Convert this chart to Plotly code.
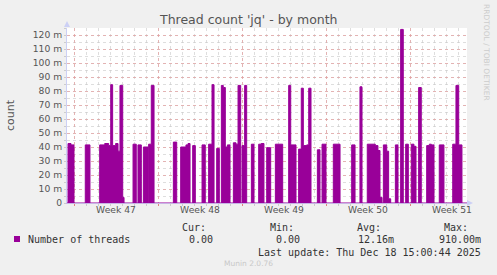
import plotly.graph_objects as go

# time axis: days since Monday 17 Nov 2025 00:00 (start of Week 47)
seg_start = [-0.50, -0.25, 0.94, 2.14, 2.56, 2.89, 3.06, 3.22, 3.47, 3.67, 3.83, 4.06,
             4.92, 5.33, 5.78, 6.22, 6.44, 8.28, 8.89, 9.33, 9.50, 9.89, 10.67, 11.22,
             11.50, 11.89, 12.28, 12.44, 12.61, 12.78, 13.28, 13.50, 13.67, 14.00, 14.22,
             14.78, 15.39, 15.60, 16.06, 16.78, 17.89, 18.06, 18.72, 18.94, 19.11, 19.39,
             19.56, 20.28, 20.67, 21.61, 23.14, 23.83, 24.44, 25.11, 25.33, 25.50, 25.78,
             26.06, 26.22, 26.78, 27.22, 27.64, 28.11, 28.33, 28.72, 29.39, 29.61, 29.78,
             30.44, 31.56, 31.83, 32.06]
seg_end = [-0.25, 0.00, 1.33, 2.56, 2.89, 3.06, 3.22, 3.47, 3.67, 3.83, 4.06, 4.17,
           5.19, 5.61, 6.17, 6.44, 6.67, 8.56, 9.33, 9.50, 9.67, 10.11, 10.94, 11.50,
           11.67, 12.11, 12.44, 12.61, 12.78, 13.00, 13.50, 13.67, 13.89, 14.22, 14.39,
           15.00, 15.60, 15.83, 16.39, 17.39, 18.06, 18.50, 18.94, 19.11, 19.39, 19.56,
           19.75, 20.50, 21.00, 22.17, 23.42, 24.00, 25.11, 25.33, 25.50, 25.67, 26.06,
           26.22, 26.39, 27.00, 27.44, 27.86, 28.33, 28.50, 28.94, 29.61, 29.78, 30.00,
           30.83, 31.83, 32.06, 32.33]
seg_value = [42.5, 41.5, 41.5, 41.5, 42.5, 41, 84.5, 41, 42.5, 37, 84, 4,
             42, 41.5, 40, 42, 84, 43.5, 40, 41.5, 42.5, 41, 41.5, 42,
             84.5, 39, 84, 82.5, 40, 41.5, 43, 42, 84, 41, 84,
             42, 42, 42.5, 39.5, 42, 84, 41.5, 38.5, 82, 41, 41.5,
             82, 38, 42, 42, 41.5, 83, 42, 41, 37.5, 4, 41.5,
             37, 3, 41.5, 124, 42, 42, 40.5, 82.5, 41, 42, 41.5,
             41.5, 42, 84, 41.5]

week_starts = [0, 7, 14, 21, 28]
week_centers = [3.5, 10.5, 17.5, 24.5, 31.5]
week_labels = ["Week 47", "Week 48", "Week 49", "Week 50", "Week 51"]
y_ticks = [0, 10, 20, 30, 40, 50, 60, 70, 80, 90, 100, 110, 120]
y_labels = ["0"] + [f"{v} m" for v in y_ticks[1:]]

X_MIN, X_MAX = -7 / 12, 393 / 12
Y_MAX = 125

# build step series
xs, ys = [X_MIN], [0]
prev_end = None
for s, e, v in zip(seg_start, seg_end, seg_value):
    if prev_end is not None and abs(prev_end - s) > 1e-9:
        xs.append(prev_end); ys.append(0)
    xs.append(s); ys.append(v)
    prev_end = e
xs.append(prev_end); ys.append(0)
xs.append(X_MAX); ys.append(0)

PURPLE = "#990099"
fig = go.Figure()
fig.add_trace(go.Scatter(x=xs, y=ys, mode="lines", line=dict(shape="hv", color=PURPLE, width=1),
                         fill="tozeroy", fillcolor=PURPLE, hoverinfo="skip", showlegend=False))
fig.add_trace(go.Scatter(x=[X_MIN, X_MAX], y=[0, 0], xaxis="x2", mode="lines",
                         line=dict(width=0), hoverinfo="skip", showlegend=False))

L, R, T, B = 67, 30, 28, 72
W, H = 497, 275
PW, PH = W - L - R, H - T - B

def px(xp):
    return (xp - L) / PW

def py(yp):
    return (H - B - yp) / PH

FONT = "DejaVu Sans"
MONO = "DejaVu Sans Mono"
RED_GRID = "rgba(230,150,150,0.6)"
GRAY_GRID = "rgba(200,200,200,0.6)"

fig.update_layout(
    width=W, height=H,
    margin=dict(l=L, r=R, t=T, b=B),
    paper_bgcolor="#F0F0F0", plot_bgcolor="#FFFFFF",
    font=dict(family=FONT, size=9.2, color="#555555"),
    xaxis=dict(range=[X_MIN, X_MAX], tickmode="array", tickvals=week_starts,
               ticktext=[""] * 5, showgrid=True, gridcolor=RED_GRID, griddash="dot",
               gridwidth=1, ticks="outside", ticklen=2, tickcolor="#e08080",
               showline=True, linecolor="#c8b4e6", linewidth=1, zeroline=False,
               minor=dict(tick0=0, dtick=1, showgrid=True, gridcolor=GRAY_GRID,
                          griddash="dot", ticks="outside", ticklen=2, tickcolor="#cccccc")),
    xaxis2=dict(range=[X_MIN, X_MAX], overlaying="x", side="bottom", tickmode="array",
                tickvals=week_centers, ticktext=week_labels, showgrid=False,
                showline=False, zeroline=False, ticks="", ticklen=0,
                tickfont=dict(family=FONT, size=9.2, color="#555555")),
    yaxis=dict(range=[0, Y_MAX], tickmode="array", tickvals=y_ticks, ticktext=y_labels,
               showgrid=True, gridcolor=RED_GRID, griddash="dot", gridwidth=1,
               ticks="outside", ticklen=2, tickcolor="#cccccc",
               showline=True, linecolor="#ccd0f5", linewidth=1, zeroline=False,
               tickfont=dict(family=FONT, size=9.2, color="#555555"),
               minor=dict(tick0=0, dtick=5, showgrid=True, gridcolor=GRAY_GRID,
                          griddash="dot", ticks="outside", ticklen=2, tickcolor="#cccccc")),
    showlegend=False,
)

ann = []
def text(xp, yp, s, size, color="#333333", family=MONO, xanchor="left", angle=0):
    ann.append(dict(x=px(xp), y=py(yp), xref="paper", yref="paper", text=s, showarrow=False,
                    xanchor=xanchor, yanchor="middle", textangle=angle,
                    font=dict(family=family, size=size, color=color)))

text(248, 19, "Thread count 'jq' - by month", 12.5, "#555555", FONT, "center")
text(10, 115, "count", 11, "#555555", FONT, "center", -90)
text(487, 52, "RRDTOOL / TOBI OETIKER", 7.5, "#cccccc", FONT, "center", 90)
text(26, 239, "Number of threads", 10)
for lbl, xr in [("Cur:", 208), ("Min:", 296), ("Avg:", 383), ("Max:", 470)]:
    text(xr, 227, lbl, 10, xanchor="right")
for val, xr in [("0.00", 215), ("0.00", 302), ("12.16m", 396), ("910.00m", 483)]:
    text(xr, 239, val, 10, xanchor="right")
text(483, 252, "Last update: Thu Dec 18 15:00:44 2025", 10, xanchor="right")
text(248, 263, "Munin 2.0.76", 7.5, "#c8c8c8", FONT, "center")
fig.update_layout(annotations=ann)

shapes = [
    # legend swatch
    dict(type="rect", xref="paper", yref="paper", x0=px(14), x1=px(20), y0=py(242), y1=py(236),
         fillcolor=PURPLE, line=dict(width=0)),
    # axis arrows
    dict(type="path", xref="paper", yref="paper",
         path=f"M {px(64)} {py(27)} L {px(70)} {py(27)} L {px(67)} {py(21)} Z",
         fillcolor="#ccd0f5", line=dict(width=0)),
    dict(type="path", xref="paper", yref="paper",
         path=f"M {px(467)} {py(200)} L {px(467)} {py(206)} L {px(473)} {py(203)} Z",
         fillcolor="#ccd0f5", line=dict(width=0)),
]
fig.update_layout(shapes=shapes)

fig.write_html("out.html")
